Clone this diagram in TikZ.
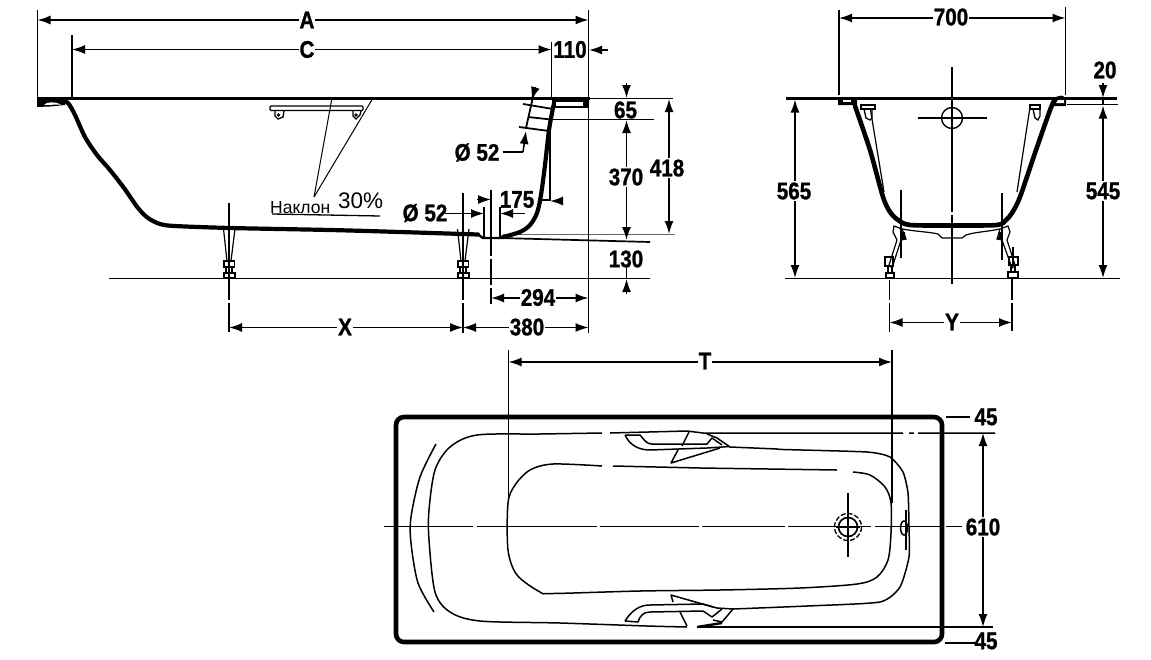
\documentclass[tikz,border=0pt]{standalone}
\usepackage{fontspec}
\setmainfont{Liberation Sans}
\newfontfamily\dimfont{Liberation Sans}[BoldFeatures={FakeBold=1.2}]
\usetikzlibrary{arrows.meta}
\tikzset{
  every picture/.style={x=1pt,y=-1pt},
  dimtext/.style={font=\fontsize{24}{24}\selectfont\dimfont\bfseries,xscale=.86,transform shape,fill=white,inner sep=1.2pt,text=black},
  plaintext/.style={dimtext,fill=none},
  dimline/.style={line width=1.5pt,arrows={Latex[length=13pt,width=9pt]-Latex[length=13pt,width=9pt]}},
  onearrow/.style={line width=1.5pt,-{Latex[length=13pt,width=9pt]}},
  ext/.style={line width=1.1pt},
  datum/.style={line width=1.7pt},
  heavy/.style={line width=4.2pt,line join=round,line cap=round},
  rimline/.style={line width=2.8pt},
  fineline/.style={line width=1.2pt,line join=round},
  planline/.style={line width=1.5pt,line join=round},
}
\begin{document}
\begin{tikzpicture}
\useasboundingbox (0,0) rectangle (1151,659);
\fill[white] (0,0) rectangle (1151,659);

%%% ---------- SIDE VIEW ----------
% datum lines
\draw[rimline] (37,98.5) -- (590,98.5);
\draw[datum] (590,98.5) -- (673,98.5);
\draw[datum] (553,119.5) -- (654,119.5);
\draw[line width=.6pt,black!60] (503,234) -- (675,234);
\draw[datum] (500,238) -- (650,242);
\draw[datum] (109,278.5) -- (650,278.5);
% extension lines
\draw[ext] (37.5,10) -- (37.5,105);
\draw[ext] (72,35) -- (72,98);
\draw[ext] (551.5,42) -- (551.5,98);
\draw[ext] (588.5,10) -- (588.5,333);
\draw[ext] (229,203) -- (229,300) (229,303) -- (229,332);
\draw[ext] (463,193) -- (463,300) (463,303) -- (463,333);
\draw[ext] (491,190) -- (491,256) (491,259) -- (491,285) (491,288) -- (491,304);
\draw[ext] (550,123) -- (550,201);
\draw[ext] (484,207) -- (484,237);
\draw[ext] (500,207) -- (500,237);
% profile
\draw[heavy] plot[smooth,tension=.5] coordinates {(60,100) (68,103) (75,115) (85,137) (97,155) (110,170) (124,188) (138,208) (148,218) (160,224) (175,226) (230,228) (330,230) (400,232) (478,234.5)};
\draw[line width=2.4pt] (478,234.5) -- (483,238) -- (503,238);
\draw[heavy] plot[smooth,tension=.5] coordinates {(503,237) (520,232) (530,225) (537,213) (541,195) (545,165) (549,130) (553,108) (555,100)};
\fill (37,107) -- (37,101) -- (42,97) -- (60,97) -- (66,100) -- (65,105) -- (50,106.5) -- cycle;
\fill[white] (44,105) .. controls (46,101.5) and (56,101.5) .. (61,104.5) -- cycle;
\fill (552,97) rectangle (589,107.5);
\fill[white] (556,102) rectangle (583,106);
% overflow
\draw[line width=1.8pt] (535,88) -- (526,128);
\draw[line width=1.8pt] (523,104) -- (553,109);
\draw[line width=1.8pt] (528,117) -- (551,119.5);
\draw[line width=1.8pt] (519,127) -- (549,131);
\draw[onearrow] (535.5,87) -- (531.5,100);
\draw[line width=1.5pt] (503,152) -- (523,152);
\draw[onearrow] (523,152) -- (526,131);
% grab handle
\draw[line width=1.3pt,rounded corners=1pt,fill=white] (270,106) rectangle (363,110.5);
\draw[line width=1.3pt] (275,110.5) -- (275,116) -- (278,119) -- (283,117) -- (284,110.5);
\draw[line width=1.3pt] (353,110.5) -- (353,116) -- (356,119) -- (360,115) -- (361,110.5);
\fill (278.5,115) circle (1.8) (356,115) circle (1.8);
\draw[line width=1pt] (332,98) -- (314,197);
\draw[line width=1pt] (373,98) -- (314,197);
\node[font=\fontsize{17.5}{17.5}\selectfont,inner sep=0pt,anchor=base west] (slopeA) at (270,213) {Наклон};
\node[font=\fontsize{22.5}{22.5}\selectfont,inner sep=0pt,anchor=base west] (slopeB) at (338,208) {30\%};
\draw[line width=1.3pt] (272,214) -- (380,216);
% legs
\foreach \lx in {229,463}{
  \draw[line width=1.2pt] (\lx-5.5,229) -- (\lx-2,261) (\lx+6,229) -- (\lx+2,261);
  \draw[line width=1.2pt] (\lx-5,261) rectangle (\lx+5.5,267);
  \draw[line width=1.2pt] (\lx-5,273) rectangle (\lx+6,278);
  \draw[line width=1.2pt] (\lx-3,267) -- (\lx-3,273) (\lx+3,267) -- (\lx+3,273);
}
% dimensions
\draw[dimline] (37.5,20) -- (588.5,20);
\node[dimtext] (dimA) at (307,20) {A};
\draw[dimline] (72,49.5) -- (551.5,49.5);
\node[dimtext] (dimC) at (307,49.5) {C};
\node[plaintext] (dim110) at (570,49.5) {110};
\draw[onearrow] (608,50) -- (589,50);
\draw[onearrow] (626.5,83) -- (626.5,98);
\node[plaintext] (dim65) at (625.5,110) {65};
\draw[dimline] (626.5,120) -- (626.5,240);
\node[dimtext] (dim370) at (626,177) {370};
\draw[dimline] (669,99) -- (669,234);
\node[dimtext] (dim418) at (667,168) {418};
\draw[line width=1.5pt] (626.5,268) -- (626.5,279);
\draw[onearrow] (626.5,294) -- (626.5,279);
\node[plaintext] (dim130) at (626,259) {130};
\node[plaintext] (dim52a) at (477,152.5) {Ø 52};
\node[plaintext] (dim52b) at (425,213) {Ø 52};
\draw[onearrow] (445,213.5) -- (484,213.5);
\draw[onearrow] (525,213.5) -- (500,213.5);
\draw[onearrow] (477,199.5) -- (491,199.5);
\node[plaintext] (dim175) at (517,199.5) {175};
\draw[line width=1.5pt] (538,200) -- (550,200);
\draw[onearrow] (563,201) -- (550,201);
\draw[dimline] (491,298) -- (588.5,298);
\node[dimtext] (dim294) at (538,297.5) {294};
\draw[dimline] (229,327.5) -- (463,327.5);
\node[dimtext] (dimX) at (345,327) {X};
\draw[dimline] (463,327.5) -- (588.5,327.5);
\node[dimtext] (dim380) at (527,327) {380};

%%% ---------- END VIEW ----------
\draw[line width=2.2pt] (786,98.5) -- (1117,98.5);
\draw[datum] (1067,104.5) -- (1118,104.5);
\draw[datum] (785,278.5) -- (1120,278.5);
\draw[ext] (839,10) -- (839,95);
\draw[ext] (1065.5,7) -- (1065.5,95);
\draw[line width=1.4pt] (952,67) -- (952,212) (952,215) -- (952,284);
\draw[line width=1.4pt] (918,118) -- (987,118);
\draw[line width=1.4pt] (952,118) circle (10.5);
% wall
\draw[heavy,line width=4.6pt] plot[smooth,tension=.45] coordinates {(855,106) (870,150) (883,197) (890,212) (898,220) (910,225) (952,225.5) (997,225) (1006,220) (1012,213) (1020,197) (1036,150) (1052,105) (1057,99) (1062,98)};
\fill (838,97) -- (852,97) -- (857,100) -- (857,105) -- (838,105) -- cycle;
\fill[white] (843,100) rectangle (851,102);
\fill (1057,97) -- (1063,97) -- (1066,100) -- (1066,106) -- (1052,106) -- cycle;
\fill[white] (1058,100) -- (1064,100) -- (1064,103) -- (1056,103) -- cycle;
% inner thin
\draw[fineline] (870,107) -- (884,192);
\draw[fineline] (1030,107) -- (1017,192);
\draw[line width=1.8pt,fill=white] (861,105) rectangle (875,109);
\draw[line width=1.3pt] (864,109) -- (866,118) -- (870,120) -- (872,118) -- (872,109);
\draw[line width=1.8pt,fill=white] (1030,105) rectangle (1040,109);
\draw[line width=1.3pt] (1033,109) -- (1035,118) -- (1038,120) -- (1040,116) -- (1040,109);
\draw[ext] (901,190) -- (901,258);
\draw[ext] (1002,193) -- (1002,260);
% under belly
\draw[fineline] (902,229) .. controls (920,232) and (930,232) .. (938,234) -- (942,238) -- (962,238) -- (966,235) .. controls (975,232) and (985,232) .. (1000,229);
% legs
\draw[line width=1.2pt] (894,226) -- (902,229) -- (906,239) -- (901,240) -- (892,268) -- (889,265) -- (897,240) -- (893,232) -- cycle;
\fill (902,232) -- (905,232) -- (905.5,239) -- (902,240) -- cycle;
\draw[line width=1.2pt] (1008,226) -- (1000,229) -- (997,239) -- (1002,240) -- (1012,268) -- (1015,265) -- (1007,240) -- (1010,232) -- cycle;
\fill (999,232) -- (1001,232) -- (1002,239) -- (998,239) -- cycle;
\draw[line width=1.2pt] (885,257) rectangle (893,266);
\draw[line width=1.2pt] (886,273) rectangle (894,278);
\draw[line width=1.2pt] (888,266) -- (888,273) (892,266) -- (892,273);
\draw[line width=1.2pt] (1009,257) rectangle (1018,265);
\draw[line width=1.5pt] (1008,272) rectangle (1018,278);
\draw[line width=1.2pt] (1011,265) -- (1011,272) (1015,265) -- (1015,272);
\draw[ext] (1013,247) -- (1013,264);
\draw[line width=1.3pt] (889.5,280) -- (889.5,300) (889.5,303) -- (889.5,332);
\draw[line width=1.3pt] (1012,278) -- (1012,300) (1012,303) -- (1012,331);
% dimensions
\draw[dimline] (839,18) -- (1065.5,18);
\node[dimtext] (dim700) at (951,17) {700};
\draw[dimline] (795,99.5) -- (795,278);
\node[dimtext] (dim565) at (794,191) {565};
\draw[dimline] (1103,105.5) -- (1103,278);
\node[dimtext] (dim545) at (1103,191) {545};
\node[plaintext] (dim20) at (1105,70) {20};
\draw[onearrow] (1103,83) -- (1103,98);
\draw[line width=1.5pt] (1103,98) -- (1103,105);
\draw[dimline] (889.5,322.5) -- (1012,322.5);
\node[dimtext] (dimY) at (952,322) {Y};

%%% ---------- PLAN VIEW ----------
\draw[line width=4.6pt,rounded corners=8pt] (396,417) rectangle (942,642);
% T
\draw[ext] (508.5,350) -- (508.5,503);
\draw[ext] (892,350) -- (892,503);
\draw[dimline] (508.5,362) -- (892,362);
\node[dimtext] (dimT) at (705,361) {T};
% centre axis
\draw[line width=1.7pt] (384,526.5) -- (473,526.5) (477,526.5) -- (597,526.5) (600,526.5) -- (699,526.5) (702,526.5) -- (785,526.5) (788,526.5) -- (871,526.5) (875,526.5) -- (943,526.5) (946,526.5) -- (962,526.5);
% horizontal datum lines
\draw[line width=1.5pt] (610,433) -- (687,431) -- (703,433) -- (903,433) (909,433) -- (914,433) (918,433) -- (995,433);
\draw[line width=1.6pt] (697,627) -- (993,627);
\draw[line width=2.4pt] (697,627) -- (722,623);
% rim outline
\draw[planline] plot[smooth,tension=.5] coordinates {(602,433) (540,434) (477,435) (450,447) (435,470) (429,510) (429,540) (435,592) (450,612) (480,621) (560,623) (647,626) (687,627)};
\draw[planline] plot[smooth,tension=.35] coordinates {(730,447) (777,449) (783,449.5) (867,452) (890,457) (903,472) (908,493) (909,527) (909,557) (900,587) (880,602) (807,606) (733,609)};
% basin outline
\draw[planline] plot[smooth,tension=.5] coordinates {(602,466) (553,464) (530,470) (515,485) (508,503) (508,550) (517,575) (540,592) (553,593.5) (640,591) (720,590) (800,588) (857,584) (877,577) (888,560) (891,533) (891,503) (885,487) (870,475) (853,472)};
\draw[planline] (837,470) -- (700,468) -- (613,466);
% left arc
\draw[planline] plot[smooth,tension=.5] coordinates {(436,444) (420,477) (411,517) (411,543) (418,583) (434,612)};
% handles
\draw[planline] (625,435) .. controls (630,446) and (640,450) .. (650,450) -- (707,448) -- (730,446.5);
\draw[planline] (625,435) -- (640,435) .. controls (645,441) and (647,444) .. (652,444) -- (707,444) -- (712,438) -- (722,445);
\draw[planline] (707,434) -- (717,438) -- (730,447);
\draw[planline] (689,432) -- (682,446) (678,450) -- (671,463) -- (720,448);
\draw[planline] (625,621) .. controls (632,610) and (640,605) .. (650,605) -- (703,604) -- (717,608) -- (733,609);
\draw[planline] (625,621) -- (638,622) .. controls (640,616) and (643,612) .. (650,612) -- (703,611) -- (712,617) -- (722,609);
\draw[planline] (713,620) -- (722,622) -- (733,609);
\draw[planline] (673,602) -- (671,595) -- (713,607);
\draw[planline] (680,612) -- (687,626);
% drain
\draw[line width=1.7pt] (848,493) -- (848,557);
\draw[line width=1.7pt] (836,527) -- (860,527);
\draw[line width=1.7pt] (848,527) circle (9.5);
\draw[line width=1.3pt,dash pattern=on 5pt off 2pt] (848,527) circle (13.5);
% overflow
\draw[line width=1.5pt] (904,528) ellipse (3.5 and 7);
\draw[line width=1.5pt] (906,510) -- (906,550);
% dimensions
\draw[line width=1.5pt] (946,417) -- (970,417);
\node[plaintext] (dim45a) at (986,417) {45};
\draw[line width=1.5pt] (945,643) -- (977,643);
\node[plaintext] (dim45b) at (986,641) {45};
\draw[dimline] (983,433) -- (983,627);
\node[dimtext] (dim610) at (983,527) {610};
\end{tikzpicture}
\end{document}
